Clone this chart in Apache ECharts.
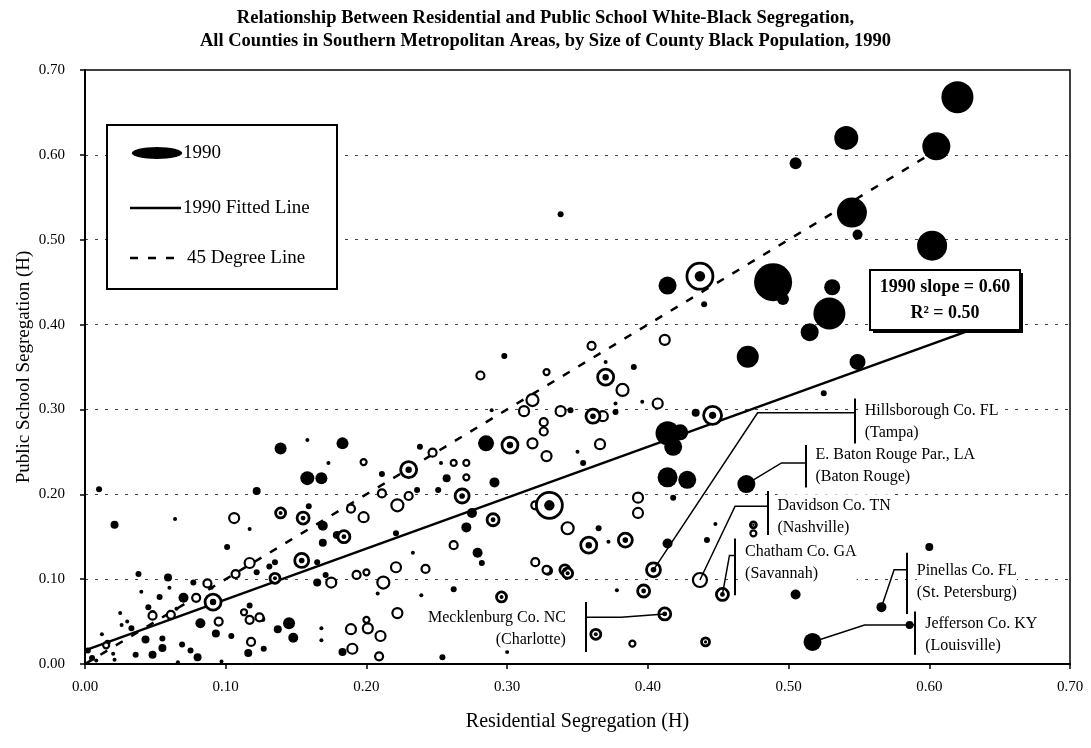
<!DOCTYPE html>
<html>
<head>
<meta charset="utf-8">
<script src="https://cdn.jsdelivr.net/npm/echarts@6/dist/echarts.min.js"></script>
<style>
  html, body { margin: 0; padding: 0; background: #fff; }
  #chart { width: 1091px; height: 748px; }
</style>
</head>
<body>
<div id="chart"></div>
<script>
// [residential H, public school H, county black population (size)]
const filledPts = [
  [0.620, 0.668, 256], [0.541, 0.620, 144], [0.605, 0.610, 196], [0.505, 0.590, 36],
  [0.545, 0.532, 225], [0.549, 0.506, 25], [0.602, 0.493, 225], [0.338, 0.530, 9],
  [0.414, 0.446, 81], [0.489, 0.450, 361], [0.496, 0.430, 36], [0.440, 0.424, 9],
  [0.531, 0.444, 64], [0.529, 0.413, 256], [0.515, 0.391, 81], [0.471, 0.362, 121],
  [0.549, 0.356, 64], [0.298, 0.363, 9], [0.390, 0.350, 9], [0.370, 0.356, 4],
  [0.396, 0.309, 4], [0.377, 0.307, 4], [0.345, 0.299, 9], [0.377, 0.297, 9],
  [0.434, 0.296, 16], [0.289, 0.299, 4], [0.285, 0.260, 64], [0.350, 0.250, 4],
  [0.354, 0.237, 9], [0.414, 0.272, 144], [0.423, 0.273, 64], [0.418, 0.256, 81],
  [0.414, 0.220, 100], [0.428, 0.217, 81], [0.418, 0.196, 9], [0.365, 0.160, 9],
  [0.372, 0.144, 4], [0.414, 0.142, 25], [0.291, 0.214, 25], [0.257, 0.219, 16],
  [0.253, 0.237, 4], [0.238, 0.256, 9], [0.183, 0.260, 36], [0.158, 0.264, 4],
  [0.158, 0.219, 49], [0.168, 0.219, 36], [0.236, 0.205, 9], [0.251, 0.205, 9],
  [0.275, 0.178, 25], [0.271, 0.161, 25], [0.221, 0.154, 9], [0.169, 0.143, 16],
  [0.139, 0.254, 36], [0.173, 0.237, 4], [0.211, 0.224, 9], [0.010, 0.206, 9],
  [0.122, 0.204, 16], [0.064, 0.171, 4], [0.021, 0.164, 16], [0.117, 0.159, 4],
  [0.169, 0.163, 25], [0.179, 0.152, 16], [0.159, 0.186, 9], [0.101, 0.138, 9],
  [0.131, 0.115, 9], [0.135, 0.120, 9], [0.165, 0.120, 9], [0.171, 0.105, 9],
  [0.165, 0.096, 16], [0.077, 0.096, 9], [0.059, 0.102, 16], [0.038, 0.106, 9],
  [0.122, 0.108, 9], [0.070, 0.078, 25], [0.053, 0.079, 9], [0.048, 0.060, 9],
  [0.045, 0.067, 9], [0.033, 0.042, 9], [0.026, 0.046, 4], [0.016, 0.025, 9],
  [0.005, 0.007, 9], [0.082, 0.048, 25], [0.093, 0.036, 16], [0.104, 0.033, 9],
  [0.117, 0.069, 9], [0.126, 0.053, 9], [0.145, 0.048, 36], [0.137, 0.041, 16],
  [0.148, 0.031, 25], [0.116, 0.013, 16], [0.127, 0.018, 9], [0.168, 0.042, 4],
  [0.168, 0.028, 4], [0.183, 0.014, 16], [0.043, 0.029, 16], [0.048, 0.011, 16],
  [0.036, 0.011, 9], [0.055, 0.019, 16], [0.075, 0.016, 9], [0.080, 0.008, 16],
  [0.002, 0.016, 9], [0.008, 0.004, 4], [0.021, 0.005, 4], [0.066, 0.002, 4],
  [0.097, 0.003, 4], [0.069, 0.023, 9], [0.055, 0.030, 9], [0.282, 0.119, 9],
  [0.279, 0.131, 25], [0.233, 0.131, 4], [0.262, 0.088, 9], [0.239, 0.081, 4],
  [0.254, 0.008, 9], [0.300, 0.014, 4], [0.378, 0.087, 4], [0.448, 0.165, 4],
  [0.442, 0.146, 9], [0.600, 0.138, 16], [0.505, 0.082, 25], [0.566, 0.067, 25],
  [0.517, 0.026, 81], [0.586, 0.046, 16], [0.470, 0.212, 81], [0.525, 0.319, 9],
  [0.215, 0.093, 4], [0.208, 0.083, 4], [0.030, 0.050, 4], [0.040, 0.085, 4],
  [0.060, 0.090, 4], [0.012, 0.035, 4], [0.025, 0.060, 4], [0.065, 0.065, 4],
  [0.090, 0.090, 4], [0.020, 0.012, 4]
];

const ringPts = [
  [0.412, 0.382, 25], [0.360, 0.375, 16], [0.328, 0.344, 9], [0.281, 0.340, 16],
  [0.382, 0.323, 36], [0.407, 0.307, 25], [0.318, 0.311, 36], [0.312, 0.298, 25],
  [0.338, 0.298, 25], [0.368, 0.292, 25], [0.326, 0.285, 16], [0.326, 0.274, 16],
  [0.318, 0.260, 25], [0.328, 0.245, 25], [0.366, 0.259, 25], [0.393, 0.196, 25],
  [0.393, 0.178, 25], [0.320, 0.187, 16], [0.343, 0.160, 36], [0.262, 0.237, 9],
  [0.271, 0.237, 9], [0.247, 0.249, 16], [0.198, 0.238, 9], [0.271, 0.220, 9],
  [0.222, 0.187, 36], [0.230, 0.198, 16], [0.262, 0.140, 16], [0.198, 0.173, 25],
  [0.189, 0.183, 16], [0.211, 0.201, 16], [0.106, 0.172, 25], [0.117, 0.119, 25],
  [0.107, 0.106, 16], [0.175, 0.096, 25], [0.193, 0.105, 16], [0.200, 0.108, 9],
  [0.212, 0.096, 36], [0.221, 0.114, 25], [0.087, 0.095, 16], [0.079, 0.078, 16],
  [0.048, 0.057, 16], [0.061, 0.058, 16], [0.095, 0.050, 16], [0.117, 0.052, 16],
  [0.124, 0.055, 16], [0.118, 0.026, 16], [0.189, 0.041, 25], [0.201, 0.042, 25],
  [0.200, 0.052, 9], [0.210, 0.033, 25], [0.190, 0.018, 25], [0.209, 0.009, 16],
  [0.015, 0.022, 9], [0.242, 0.112, 16], [0.320, 0.120, 16], [0.329, 0.110, 16],
  [0.222, 0.060, 25], [0.389, 0.024, 9], [0.437, 0.099, 49], [0.328, 0.111, 16],
  [0.475, 0.154, 9], [0.113, 0.061, 9]
];

const bullPts = [
  [0.437, 0.457, 169], [0.370, 0.338, 64], [0.361, 0.292, 49], [0.302, 0.258, 64],
  [0.446, 0.293, 81], [0.330, 0.187, 169], [0.384, 0.146, 49], [0.358, 0.140, 64],
  [0.230, 0.229, 64], [0.268, 0.198, 49], [0.290, 0.170, 36], [0.184, 0.150, 36],
  [0.139, 0.178, 25], [0.155, 0.172, 36], [0.154, 0.122, 49], [0.135, 0.101, 25],
  [0.091, 0.073, 64], [0.404, 0.111, 49], [0.453, 0.082, 36], [0.412, 0.059, 36],
  [0.341, 0.111, 25], [0.397, 0.086, 36], [0.363, 0.035, 25], [0.441, 0.026, 16],
  [0.296, 0.079, 25], [0.475, 0.164, 9], [0.343, 0.107, 25]
];

const fittedLine = [[0.0, 0.016], [0.64, 0.400]];
const diagonalLine = [[0.0, 0.0], [0.60, 0.60]];

// county call-outs: name, city, leader path, bracket [x, yLow, yHigh], label anchor
const calloutNames = ['Hillsborough Co. FL', 'E. Baton Rouge Par., LA', 'Davidson Co. TN',
  'Chatham Co. GA', 'Pinellas Co. FL', 'Jefferson Co. KY', 'Mecklenburg Co. NC'];
const calloutCities = ['(Tampa)', '(Baton Rouge)', '(Nashville)', '(Savannah)',
  '(St. Petersburg)', '(Louisville)', '(Charlotte)'];
const calloutPaths = [
  [[0.404, 0.111], [0.478, 0.296], [0.547, 0.296]],
  [[0.470, 0.212], [0.495, 0.237], [0.512, 0.237]],
  [[0.437, 0.099], [0.462, 0.186], [0.485, 0.186]],
  [[0.453, 0.082], [0.458, 0.128], [0.462, 0.128]],
  [[0.566, 0.067], [0.575, 0.111], [0.584, 0.111]],
  [[0.517, 0.026], [0.554, 0.046], [0.590, 0.046]],
  [[0.412, 0.059], [0.381, 0.055], [0.356, 0.055]]
];
const calloutBrackets = [
  [0.547, 0.256, 0.313], [0.512, 0.208, 0.258], [0.485, 0.152, 0.204],
  [0.462, 0.081, 0.148], [0.584, 0.059, 0.131], [0.590, 0.011, 0.062],
  [0.356, 0.014, 0.073]
];
const calloutLabelY = [0.286, 0.234, 0.174, 0.119, 0.097, 0.034, 0.042];
const calloutSide = ['right', 'right', 'right', 'right', 'right', 'right', 'left'];

const SERIF = 'Liberation Serif';
const sizeOf = d => 2 * Math.sqrt(d[2]);

const leaderData = calloutPaths.map(p => ({ coords: p }));
const bracketData = calloutBrackets.map(b => ({ coords: [[b[0], b[1]], [b[0], b[2]]] }));
const labelData = calloutBrackets.map((b, i) => ({
  value: [b[0], calloutLabelY[i]],
  label: {
    show: true,
    position: calloutSide[i],
    distance: calloutSide[i] === 'left' ? 20 : 10,
    align: calloutSide[i] === 'left' ? 'right' : 'left',
    formatter: calloutNames[i] + '\n' + calloutCities[i]
  }
}));

const legendFont = '19px "Liberation Serif"';
const boxFont = 'bold 18px "Liberation Serif"';

const chart = echarts.init(document.getElementById('chart'));
const option = {
  backgroundColor: '#fff',
  animation: false,
  title: {
    text: 'Relationship Between Residential and Public School White-Black Segregation,\nAll Counties in Southern Metropolitan Areas, by Size of County Black Population, 1990',
    left: 'center',
    top: 2,
    textStyle: {
      fontFamily: SERIF, fontSize: 18.5, fontWeight: 'bold', color: '#000', lineHeight: 23,
      align: 'center'
    }
  },
  grid: {
    left: 85, right: 21, top: 70, bottom: 84,
    show: true, borderColor: '#000', borderWidth: 1.5, backgroundColor: 'transparent'
  },
  xAxis: {
    type: 'value', min: 0, max: 0.7, interval: 0.1,
    name: 'Residential Segregation (H)', nameLocation: 'middle', nameGap: 48,
    nameTextStyle: { fontFamily: SERIF, fontSize: 20, color: '#000' },
    axisLine: { show: true, lineStyle: { color: '#000', width: 2 } },
    axisTick: { show: true, length: 5, lineStyle: { color: '#000', width: 1.5 } },
    axisLabel: {
      fontFamily: SERIF, fontSize: 15, color: '#000', margin: 16,
      formatter: v => v.toFixed(2)
    },
    splitLine: { show: false }
  },
  yAxis: {
    type: 'value', min: 0, max: 0.7, interval: 0.1,
    name: 'Public School Segregation (H)', nameLocation: 'middle', nameGap: 51,
    nameMoveOverlap: false,
    nameTextStyle: { fontFamily: SERIF, fontSize: 19, color: '#000' },
    axisLine: { show: true, lineStyle: { color: '#000', width: 2 } },
    axisTick: { show: true, length: 5, lineStyle: { color: '#000', width: 1.5 } },
    axisLabel: {
      fontFamily: SERIF, fontSize: 15, color: '#000', margin: 20,
      formatter: v => v.toFixed(2)
    },
    splitLine: { show: true, lineStyle: { color: '#444', width: 1, type: [3, 7] } }
  },
  series: [
    {
      name: '45 Degree Line', type: 'line', data: diagonalLine, symbol: 'none', z: 3,
      lineStyle: { color: '#000', width: 2.5, type: [8, 10] }
    },
    {
      name: '1990 Fitted Line', type: 'line', data: fittedLine, symbol: 'none', z: 4,
      lineStyle: { color: '#000', width: 2.5 }
    },
    {
      name: '1990', type: 'scatter', data: filledPts, symbolSize: sizeOf, z: 5,
      itemStyle: { color: '#000', opacity: 1 }
    },
    {
      name: '1990 rings', type: 'scatter', data: ringPts, symbolSize: sizeOf, z: 5,
      itemStyle: { color: '#fff', borderColor: '#000', borderWidth: 2.2, opacity: 1 }
    },
    {
      name: '1990 bull', type: 'scatter', data: bullPts, symbolSize: sizeOf, z: 5,
      itemStyle: { color: '#fff', borderColor: '#000', borderWidth: 2.8, opacity: 1 }
    },
    {
      name: '1990 bull centre', type: 'scatter', data: bullPts, z: 6,
      symbolSize: d => Math.max(2, sizeOf(d) * 0.4),
      itemStyle: { color: '#000', opacity: 1 }
    },
    {
      name: 'leaders', type: 'lines', coordinateSystem: 'cartesian2d', polyline: true,
      data: leaderData, z: 7, silent: true,
      lineStyle: { color: '#000', width: 1.5, opacity: 1 }
    },
    {
      name: 'brackets', type: 'lines', coordinateSystem: 'cartesian2d',
      data: bracketData, z: 7, silent: true,
      lineStyle: { color: '#000', width: 2, opacity: 1 }
    },
    {
      name: 'callout labels', type: 'scatter', data: labelData, symbolSize: 0, z: 8,
      itemStyle: { opacity: 1 },
      label: {
        fontFamily: SERIF, fontSize: 16, color: '#000', lineHeight: 22,
        backgroundColor: '#fff'
      }
    }
  ],
  graphic: [
    { type: 'rect', z: 100, shape: { x: 107, y: 125, width: 230, height: 164 },
      style: { fill: '#fff', stroke: '#000', lineWidth: 2 } },
    { type: 'circle', z: 101, x: 157, y: 153, scaleX: 4.2, shape: { cx: 0, cy: 0, r: 6 },
      style: { fill: '#000' } },
    { type: 'text', z: 101, x: 183, y: 153,
      style: { text: '1990', font: legendFont, fill: '#000', verticalAlign: 'middle' } },
    { type: 'line', z: 101, shape: { x1: 130, y1: 208, x2: 181, y2: 208 },
      style: { stroke: '#000', lineWidth: 2.5 } },
    { type: 'text', z: 101, x: 183, y: 208,
      style: { text: '1990 Fitted Line', font: legendFont, fill: '#000', verticalAlign: 'middle' } },
    { type: 'line', z: 101, shape: { x1: 130, y1: 258, x2: 180, y2: 258 },
      style: { stroke: '#000', lineWidth: 2.5, lineDash: [8, 10] } },
    { type: 'text', z: 101, x: 187, y: 258,
      style: { text: '45 Degree Line', font: legendFont, fill: '#000', verticalAlign: 'middle' } },
    { type: 'rect', z: 100, shape: { x: 873, y: 273, width: 150, height: 60 },
      style: { fill: '#000' } },
    { type: 'rect', z: 101, shape: { x: 870, y: 270, width: 150, height: 60 },
      style: { fill: '#fff', stroke: '#000', lineWidth: 2 } },
    { type: 'text', z: 102, x: 945, y: 287,
      style: { text: '1990 slope = 0.60', font: boxFont, fill: '#000', align: 'center', verticalAlign: 'middle' } },
    { type: 'text', z: 102, x: 945, y: 313,
      style: { text: 'R² = 0.50', font: boxFont, fill: '#000', align: 'center', verticalAlign: 'middle' } }
  ]
};
chart.setOption(option);
</script>
</body>
</html>
